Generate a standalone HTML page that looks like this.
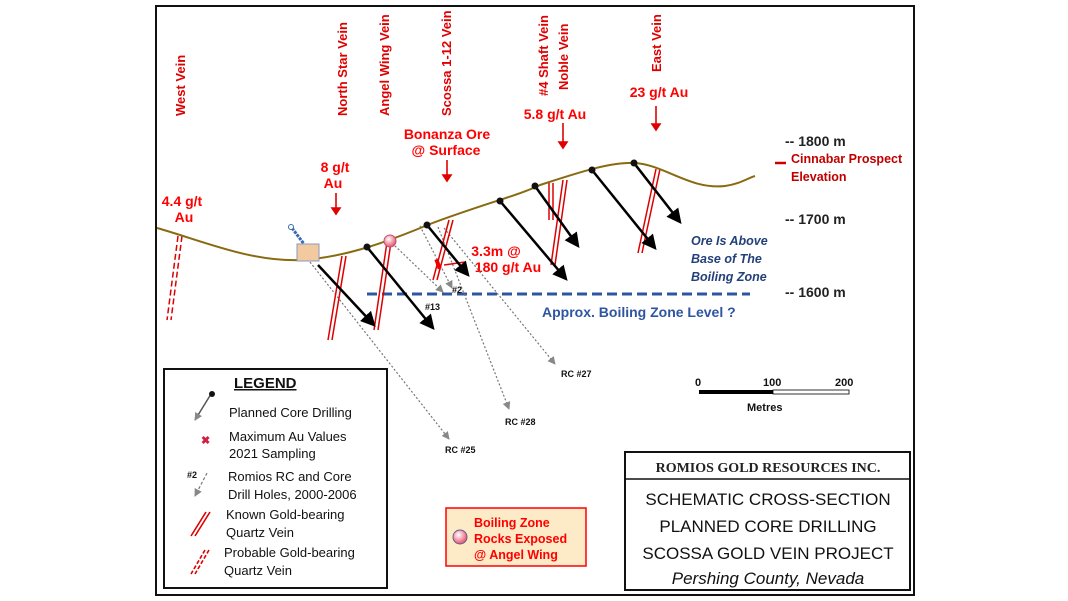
<!DOCTYPE html>
<html><head><meta charset="utf-8"><style>
body{margin:0;background:#fff;}
svg{display:block;font-family:"Liberation Sans",sans-serif;}
</style></head><body>
<svg width="1068" height="601" viewBox="0 0 1068 601" xmlns="http://www.w3.org/2000/svg">
<defs>
<marker id="ab" markerWidth="6" markerHeight="6" refX="5" refY="3" orient="auto" markerUnits="strokeWidth"><path d="M0,0 L6,3 L0,6 z" fill="#000"/></marker>
<marker id="ag" markerWidth="8" markerHeight="8" refX="7" refY="4" orient="auto" markerUnits="userSpaceOnUse"><path d="M0,0 L8,4 L0,8 z" fill="#888"/></marker>
<radialGradient id="pk" cx="40%" cy="35%" r="60%"><stop offset="0" stop-color="#fff"/><stop offset="1" stop-color="#e8607a"/></radialGradient>
</defs>
<rect x="156" y="6" width="758" height="589" fill="#fff" stroke="#111" stroke-width="2"/>

<!-- vein labels -->
<g fill="#e00000" font-weight="bold" font-size="13">
<text transform="translate(185,116) rotate(-90)">West Vein</text>
<text transform="translate(347,116) rotate(-90)">North Star Vein</text>
<text transform="translate(389,116) rotate(-90)">Angel Wing Vein</text>
<text transform="translate(451,116) rotate(-90)">Scossa 1-12 Vein</text>
<text transform="translate(548,96) rotate(-90)">#4 Shaft Vein</text>
<text transform="translate(568,90) rotate(-90)">Noble Vein</text>
<text transform="translate(661,72) rotate(-90)">East Vein</text>
</g>
<g fill="#ff0000" font-weight="bold" font-size="14" text-anchor="middle">
<text x="182" y="206">4.4 g/t</text><text x="184" y="222">Au</text>
<text x="335" y="172">8 g/t</text><text x="333" y="188">Au</text>
<text x="447" y="139">Bonanza Ore</text><text x="446" y="155">@ Surface</text>
<text x="555" y="119">5.8 g/t Au</text>
<text x="659" y="97">23 g/t Au</text>
<text x="496" y="256">3.3m @</text><text x="508" y="272">180 g/t Au</text>
</g>
<g stroke="#e00000" stroke-width="1.6" fill="#e00000">
<line x1="336" y1="193" x2="336" y2="210"/><path d="M332,208 L340,208 L336,214z"/>
<line x1="447" y1="160" x2="447" y2="176"/><path d="M443,175 L451,175 L447,181z"/>
<line x1="563" y1="123" x2="563" y2="143"/><path d="M559,142 L567,142 L563,148z"/>
<line x1="656" y1="106" x2="656" y2="125"/><path d="M652,124 L660,124 L656,130z"/>
</g>

<!-- elevation labels -->
<g font-size="14" font-weight="bold" fill="#222">
<text x="785" y="146">-- 1800 m</text>
<text x="785" y="224">-- 1700 m</text>
<text x="785" y="297">-- 1600 m</text>
</g>
<line x1="775" y1="163" x2="786" y2="163" stroke="#c00" stroke-width="2.5"/>
<g font-size="12.5" font-weight="bold" fill="#c00000"><text x="791" y="163">Cinnabar Prospect</text><text x="791" y="181">Elevation</text></g>
<g font-size="12.5" font-weight="bold" font-style="italic" fill="#24407a"><text x="691" y="245">Ore Is Above</text><text x="691" y="263">Base of The</text><text x="691" y="281">Boiling Zone</text></g>

<!-- boiling zone line -->
<line x1="367" y1="294" x2="750" y2="294" stroke="#2f55a0" stroke-width="3" stroke-dasharray="10,5"/>
<text x="542" y="317" font-size="14" font-weight="bold" fill="#2f55a0">Approx. Boiling Zone Level ?</text>

<!-- grey dotted RC holes -->
<g stroke="#777" stroke-width="1.2" stroke-dasharray="2,2" fill="none" marker-end="url(#ag)">
<line x1="310" y1="262" x2="449" y2="439"/>
<line x1="392" y1="243" x2="443" y2="292"/>
<line x1="420" y1="226" x2="452" y2="288"/>
<line x1="438" y1="227" x2="509" y2="409"/>
<line x1="444" y1="228" x2="555" y2="364"/>
</g>
<g font-size="9" font-weight="bold" fill="#111">
<text x="452" y="293">#2</text><text x="425" y="310">#13</text>
<text x="445" y="453">RC #25</text><text x="505" y="425">RC #28</text><text x="561" y="377">RC #27</text>
</g>

<!-- veins -->
<g stroke="#d00" stroke-width="1.5" fill="none">
<g stroke-dasharray="6,3"><line x1="178" y1="236" x2="167" y2="320"/><line x1="182" y1="236" x2="171" y2="320"/></g>
<line x1="342" y1="256" x2="328" y2="340"/><line x1="346" y1="256" x2="332" y2="340"/>
<line x1="387" y1="242" x2="374" y2="330"/><line x1="391" y1="242" x2="378" y2="330"/>
<line x1="449" y1="220" x2="433" y2="280"/><line x1="453" y1="220" x2="437" y2="280"/>
<line x1="549" y1="183" x2="549" y2="220"/><line x1="553" y1="183" x2="553" y2="220"/>
<line x1="563" y1="180" x2="551" y2="265"/><line x1="567" y1="180" x2="555" y2="265"/>
<line x1="656" y1="169" x2="638" y2="253"/><line x1="660" y1="169" x2="642" y2="253"/>
</g>
<rect x="436" y="259" width="4" height="10" fill="#e00" transform="rotate(-20 438 264)"/>
<line x1="465" y1="262" x2="444" y2="265" stroke="#e00" stroke-width="1.5"/>

<!-- terrain -->
<path d="M157,228 C200,240 250,262 300,260 C340,258 380,245 430,224 C480,205 520,195 540,185 C580,172 610,162 635,163 C665,165 690,190 725,186 C740,184 748,178 755,176" stroke="#8a6a10" stroke-width="2" fill="none"/>

<!-- drill arrows -->
<g stroke="#000" stroke-width="2.5" fill="none" marker-end="url(#ab)">
<line x1="318" y1="265" x2="374" y2="325"/>
<line x1="367" y1="247" x2="433" y2="328"/>
<line x1="427" y1="225" x2="468" y2="275"/>
<line x1="500" y1="201" x2="566" y2="279"/>
<line x1="535" y1="186" x2="578" y2="246"/>
<line x1="592" y1="170" x2="655" y2="248"/>
<line x1="634" y1="163" x2="680" y2="222"/>
</g>
<g fill="#111"><circle cx="367" cy="247" r="3.5"/><circle cx="427" cy="225" r="3.5"/><circle cx="500" cy="201" r="3.5"/><circle cx="535" cy="186" r="3.5"/><circle cx="592" cy="170" r="3.5"/><circle cx="634" cy="163" r="3.5"/></g>
<circle cx="390" cy="241" r="6" fill="url(#pk)" stroke="#c05070"/>
<!-- rig -->
<line x1="292" y1="228" x2="304" y2="244" stroke="#3a6ab0" stroke-width="3" stroke-dasharray="3,1"/>
<circle cx="291" cy="227" r="2.5" fill="#fff" stroke="#3a6ab0"/>
<rect x="297" y="244" width="22" height="17" fill="#f3c9a0" stroke="#8899bb"/>

<!-- scale -->
<g font-size="11" font-weight="bold" fill="#111">
<text x="695" y="386">0</text><text x="763" y="386">100</text><text x="835" y="386">200</text>
<text x="747" y="411">Metres</text></g>
<rect x="699" y="390" width="74" height="4" fill="#000"/>
<rect x="773" y="390" width="76" height="4" fill="#fff" stroke="#000" stroke-width="0.8"/>

<!-- legend -->
<rect x="164" y="369" width="223" height="219" fill="#fff" stroke="#111" stroke-width="2"/>
<text x="234" y="388" font-size="15" font-weight="bold" fill="#111" text-decoration="underline">LEGEND</text>
<line x1="211" y1="394" x2="195" y2="420" stroke="#555" stroke-width="1.5" marker-end="url(#ag)"/>
<circle cx="212" cy="394" r="3" fill="#111"/>
<text x="159" y="0" font-size="0"> </text>
<g font-size="13" fill="#111">
<text x="229" y="417">Planned Core Drilling</text>
<text x="229" y="441">Maximum Au Values</text><text x="229" y="458">2021 Sampling</text>
<text x="228" y="481">Romios RC and Core</text><text x="228" y="499">Drill Holes, 2000-2006</text>
<text x="226" y="519">Known Gold-bearing</text><text x="226" y="537">Quartz Vein</text>
<text x="224" y="557">Probable Gold-bearing</text><text x="224" y="575">Quartz Vein</text>
</g>
<text x="201" y="444" font-size="11" font-weight="bold" fill="#d02040">✖</text>
<text x="187" y="478" font-size="9" font-weight="bold" fill="#111">#2</text>
<line x1="207" y1="473" x2="195" y2="496" stroke="#777" stroke-width="1.2" stroke-dasharray="3,2" marker-end="url(#ag)"/>
<g stroke="#d00" stroke-width="1.6"><line x1="206" y1="512" x2="191" y2="536"/><line x1="210" y1="512" x2="195" y2="536"/>
<g stroke-dasharray="4,2"><line x1="205" y1="550" x2="191" y2="574"/><line x1="209" y1="550" x2="195" y2="574"/></g></g>

<!-- boiling zone box -->
<rect x="446" y="508" width="140" height="58" fill="#fdebc8" stroke="#f00" stroke-width="1.5"/>
<circle cx="460" cy="537" r="7" fill="url(#pk)" stroke="#6a5a8a"/>
<g font-size="12.5" font-weight="bold" fill="#f00"><text x="474" y="527">Boiling Zone</text><text x="474" y="543">Rocks Exposed</text><text x="474" y="559">@ Angel Wing</text></g>

<!-- title box -->
<rect x="625" y="452" width="285" height="138" fill="#fff" stroke="#111" stroke-width="2"/>
<line x1="625" y1="479" x2="910" y2="479" stroke="#111" stroke-width="1.5"/>
<text x="768" y="472" font-family="Liberation Serif,serif" font-weight="bold" font-size="14" text-anchor="middle" fill="#222">ROMIOS GOLD RESOURCES INC.</text>
<g font-size="17" fill="#111" text-anchor="middle">
<text x="768" y="505">SCHEMATIC CROSS-SECTION</text>
<text x="768" y="532">PLANNED CORE DRILLING</text>
<text x="768" y="559">SCOSSA GOLD VEIN PROJECT</text>
<text x="768" y="584" font-style="italic">Pershing County, Nevada</text>
</g>
</svg>
</body></html>
